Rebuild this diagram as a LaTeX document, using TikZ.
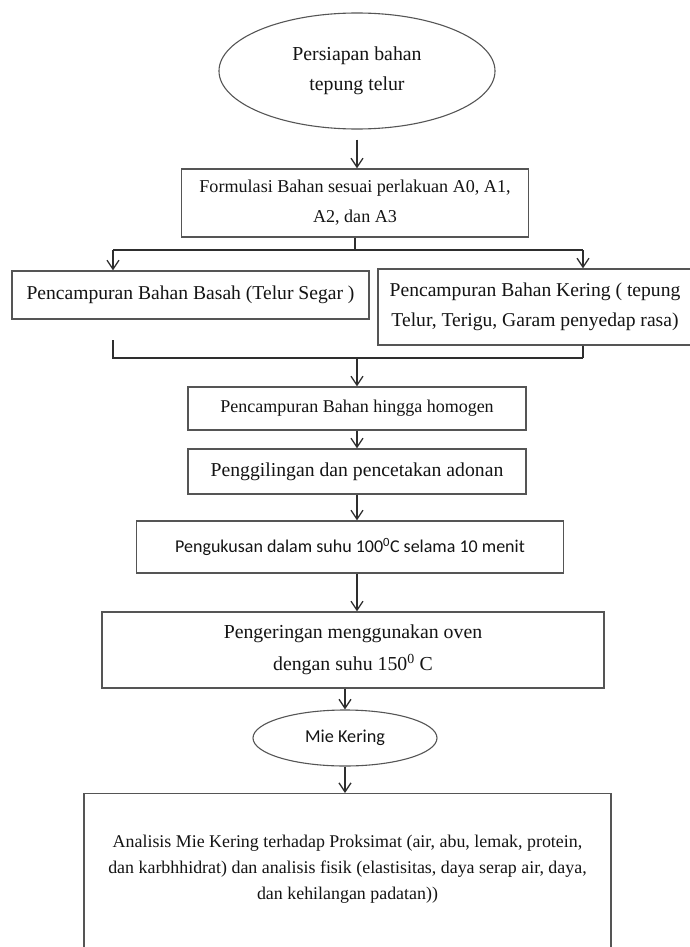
\documentclass[tikz,border=0pt]{standalone}
\usepackage{fontspec}
\setmainfont{Liberation Serif}
\newfontfamily\calib{Carlito}
\usetikzlibrary{arrows.meta,shapes.geometric}
\definecolor{linec}{HTML}{555555}
\definecolor{arrc}{HTML}{2E2E2E}
\definecolor{txtc}{HTML}{141414}
\begin{document}
\begin{tikzpicture}[x=1pt,y=-1pt,
  box/.style={draw=linec, line width=1.3pt, rectangle, inner sep=0pt, align=center, text=txtc},
  oval/.style={draw=linec, line width=1.1pt, ellipse, inner sep=0pt, align=center, text=txtc},
  plain/.style={inner sep=0pt, align=center, text=txtc},
  arr/.style={draw=arrc, line width=1.3pt, -{Straight Barb[length=9pt,width=12pt,line width=1.3pt]}},
  ln/.style={draw=arrc, line width=1.3pt}]
\useasboundingbox (0,0) rectangle (689,947);
\fill[white] (0,0) rectangle (689,947);

% nodes
\node[oval, minimum width=276pt, minimum height=116pt, font=\fontsize{19.8}{30}\selectfont] (start) at (357,71) {Persiapan bahan\\tepung telur};
\node[box, minimum width=347pt, minimum height=68pt, font=\fontsize{18.1}{30}\selectfont] (form) at (355,203) {Formulasi Bahan sesuai perlakuan A0, A1,\\A2, dan A3};
\node[box, minimum width=357pt, minimum height=48pt, font=\fontsize{19.6}{30}\selectfont] (basah) at (190.5,295) {Pencampuran Bahan Basah (Telur Segar )};
\node[box, minimum width=314pt, minimum height=76pt, font=\fontsize{19.6}{30}\selectfont] (kering) at (535,307) {Pencampuran Bahan Kering ( tepung\\Telur, Terigu, Garam penyedap rasa)};
\node[box, minimum width=338pt, minimum height=43pt, font=\fontsize{18}{24}\selectfont] (homo) at (357,408.5) {Pencampuran Bahan hingga homogen};
\node[box, minimum width=338pt, minimum height=45pt, font=\fontsize{19.7}{24}\selectfont] (giling) at (357,471.5) {Penggilingan dan pencetakan adonan};
\node[box, minimum width=427pt, minimum height=52pt, font=\calib\fontsize{18}{24}\selectfont] (kukus) at (350,547) {Pengukusan dalam suhu 100\textsuperscript{0}C selama 10 menit};
\node[box, minimum width=502pt, minimum height=76pt, font=\fontsize{19.8}{32}\selectfont] (oven) at (353,650) {Pengeringan menggunakan oven\\dengan suhu 150\textsuperscript{0} C};
\node[oval, minimum width=184pt, minimum height=56pt, font=\calib\fontsize{18.2}{24}\selectfont] (mie) at (345,738) {Mie Kering};
\node[box, minimum width=527pt, minimum height=180pt, anchor=north] (anal) at (347.5,793) {};
\node[plain, font=\fontsize{17.9}{26}\selectfont] (analtxt) at (347.5,869) {Analisis Mie Kering terhadap Proksimat (air, abu, lemak, protein,\\dan karbhhidrat) dan analisis fisik (elastisitas, daya serap air, daya,\\dan kehilangan padatan))};

% coordinates for the split and merge
\coordinate (s0) at (355,250);
\coordinate (sl) at (113,250);
\coordinate (sr) at (583,250);
\coordinate (m0) at (113,340);
\coordinate (ml) at (113,358);
\coordinate (mr) at (583,358);
\coordinate (mc) at (357,358);

% connectors
\draw[arr] ([yshift=-10pt]start.south) -- (start.south |- form.north);
\draw[ln] (form.south) -- (s0);
\draw[ln] (sl) -- (sr);
\draw[arr] (sl) -- (sl |- basah.north);
\draw[arr] (sr) -- (sr |- kering.north);
\draw[ln] (m0) -- (ml) -- (mr);
\draw[ln] (sr |- kering.south) -- (mr);
\draw[arr] (mc) -- (mc |- homo.north);
\draw[arr] (homo.south) -- (giling.north);
\draw[arr] (giling.south) -- (giling.south |- kukus.north);
\draw[arr] (giling.south |- kukus.south) -- (giling.south |- oven.north);
\draw[arr] (mie.north |- oven.south) -- (mie.north);
\draw[arr] (mie.south) -- (mie.south |- anal.north);
\end{tikzpicture}
\end{document}
